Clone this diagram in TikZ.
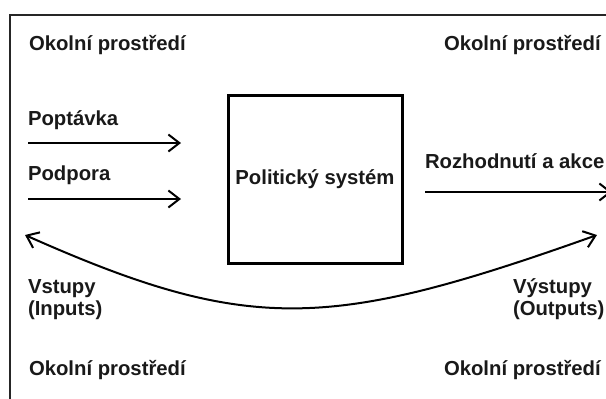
\documentclass[tikz,border=0pt]{standalone}
\usepackage{fontspec}
\setmainfont{Liberation Sans}
\usetikzlibrary{arrows.meta}
\tikzset{
  lbl/.style={inner sep=0pt, outer sep=0pt, anchor=base west, font=\bfseries\fontsize{20.3}{22}\selectfont, text=black!90},
  conn/.style={line width=2pt, -{Straight Barb[length=11pt,width=17pt,line width=2pt]}},
  bothconn/.style={line width=2pt, {Straight Barb[length=11pt,width=17pt,line width=2pt]}-{Straight Barb[length=11pt,width=17pt,line width=2pt]}},
  sysbox/.style={draw, line width=3pt, minimum width=174pt, minimum height=168pt, inner sep=0pt, font=\bfseries\fontsize{20.3}{22}\selectfont, text=black!90},
}
\begin{document}
\begin{tikzpicture}[x=1pt,y=-1pt]
\useasboundingbox (0,0) rectangle (606,399);
% environment frame
\draw[line width=1.5pt, black!85] (10,410) -- (10,15) -- (620,15);
% labels
\node[lbl] (envtl) at (29,50) {Okolní prostředí};
\node[lbl] (envtr) at (444,50) {Okolní prostředí};
\node[lbl] (envbl) at (29,375) {Okolní prostředí};
\node[lbl] (envbr) at (444,375) {Okolní prostředí};
\node[lbl] (demand) at (28,125) {Poptávka};
\node[lbl] (support) at (28,180) {Podpora};
\node[lbl] (decis) at (425,168) {Rozhodnutí a akce};
\node[lbl, align=left] (inputs) at (28,315) {Vstupy\\(Inputs)};
\node[lbl, align=left] (outputs) at (513,315) {Výstupy\\(Outputs)};
% system box
\node[sysbox] (sys) at (315,179) {Politický systém};
% arrows
\coordinate (a1s) at (28,143);
\coordinate (a1e) at (181,143);
\coordinate (a2s) at (28,199);
\coordinate (a2e) at (181,199);
\coordinate (a3s) at (425,192);
\coordinate (a3e) at (612,192);
\draw[conn] (a1s) -- (a1e);
\draw[conn] (a2s) -- (a2e);
\draw[conn] (a3s) -- (a3e);
% feedback curve
\coordinate (fbl) at (25,235);
\coordinate (fbr) at (597,235);
\draw[bothconn] (fbl) .. controls (250,335) and (330,330) .. (fbr);
\end{tikzpicture}
\end{document}
